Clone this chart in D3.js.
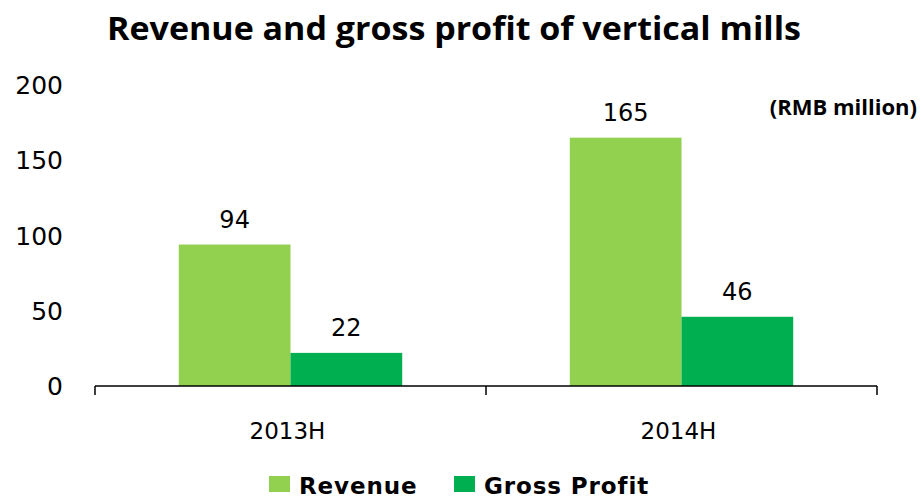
<!DOCTYPE html>
<html>
<head>
<meta charset="utf-8">
<script src="https://cdn.jsdelivr.net/npm/d3@7"></script>
<style>
  body { margin: 0; background: #fff; }
  text { fill: #000; }
</style>
</head>
<body>
<div id="chart"></div>
<script>
var periods = ["2013H", "2014H"];
var seriesNames = ["Revenue", "Gross Profit"];
var revenue = [94, 165];
var grossProfit = [22, 46];
var yTicks = [0, 50, 100, 150, 200];
var colors = ["#92D050", "#00B050"];

var width = 922, height = 502;

var svg = d3.select("#chart").append("svg")
            .attr("width", width)
            .attr("height", height);

var x = d3.scaleBand()
          .domain(periods)
          .range([95, 877]);

var inner = d3.scaleBand()
              .domain(seriesNames)
              .range([0, x.bandwidth()])
              .paddingOuter(0.75);

var y = d3.scaleLinear()
          .domain([0, 200])
          .range([386, 85]);

// title
svg.append("text")
   .attr("x", 454)
   .attr("y", 40)
   .attr("text-anchor", "middle")
   .attr("textLength", 694)
   .attr("lengthAdjust", "spacingAndGlyphs")
   .style("font-family", "'Open Sans', sans-serif")
   .style("font-weight", "bold")
   .style("font-size", "32px")
   .text("Revenue and gross profit of vertical mills");

svg.append("text")
   .attr("x", 917)
   .attr("y", 115)
   .attr("text-anchor", "end")
   .style("font-family", "'Open Sans', sans-serif")
   .style("font-weight", "bold")
   .style("font-size", "22px")
   .text("(RMB million)");

// y tick labels (no axis line)
svg.selectAll(".ylab")
   .data(yTicks)
   .enter()
   .append("text")
   .attr("class", "ylab")
   .attr("x", 63)
   .attr("y", function(d) { return y(d); })
   .attr("dy", "0.36em")
   .attr("text-anchor", "end")
   .style("font-family", "'DejaVu Sans', sans-serif")
   .style("font-size", "25px")
   .text(function(d) { return d; });

var rows = periods.map(function(p, i) {
  return { period: p, values: [revenue[i], grossProfit[i]] };
});

var groups = svg.selectAll(".grp")
                .data(rows)
                .enter()
                .append("g")
                .attr("transform", function(d) { return "translate(" + x(d.period) + ",0)"; });

groups.selectAll("rect")
      .data(function(d) { return d.values; })
      .enter()
      .append("rect")
      .attr("x", function(d, i) { return inner(seriesNames[i]); })
      .attr("width", inner.bandwidth())
      .attr("y", function(d) { return y(d); })
      .attr("height", function(d) { return y(0) - y(d); })
      .style("fill", function(d, i) { return colors[i]; });

groups.selectAll(".val")
      .data(function(d) { return d.values; })
      .enter()
      .append("text")
      .attr("class", "val")
      .attr("x", function(d, i) { return inner(seriesNames[i]) + inner.bandwidth() / 2; })
      .attr("y", function(d) { return y(d) - 17; })
      .attr("text-anchor", "middle")
      .style("font-family", "'DejaVu Sans', sans-serif")
      .style("font-size", "24px")
      .text(function(d) { return d; });

// x axis
var gx = svg.append("g")
            .attr("transform", "translate(0," + y(0) + ")");
gx.append("path")
  .attr("d", "M" + x.range()[0] + ",0H" + x.range()[1])
  .style("stroke", "#000")
  .style("stroke-width", 1.5);
gx.selectAll(".tk")
  .data([x.range()[0]].concat(periods.map(function(p) { return x(p) + x.bandwidth(); })))
  .enter()
  .append("line")
  .attr("x1", function(d) { return d; })
  .attr("x2", function(d) { return d; })
  .attr("y1", 0)
  .attr("y2", 9)
  .style("stroke", "#000")
  .style("stroke-width", 1.5);
gx.selectAll(".xlab")
  .data(periods)
  .enter()
  .append("text")
  .attr("x", function(d) { return x(d) + x.bandwidth() / 2 - 3; })
  .attr("y", 53)
  .attr("text-anchor", "middle")
  .style("font-family", "'DejaVu Sans', sans-serif")
  .style("font-size", "23px")
  .text(function(d) { return d; });

// legend
var legendX = [269, 454];
var leg = svg.selectAll(".leg")
             .data(seriesNames)
             .enter()
             .append("g")
             .attr("transform", function(d, i) { return "translate(" + legendX[i] + ",476)"; });
leg.append("rect")
   .attr("width", 21)
   .attr("height", 16)
   .style("fill", function(d, i) { return colors[i]; });
leg.append("text")
   .attr("x", 30)
   .attr("y", 18)
   .style("font-family", "'DejaVu Sans', sans-serif")
   .style("font-weight", "bold")
   .style("font-size", "23px")
   .style("letter-spacing", "0.9px")
   .text(function(d) { return d; });
</script>
</body>
</html>
